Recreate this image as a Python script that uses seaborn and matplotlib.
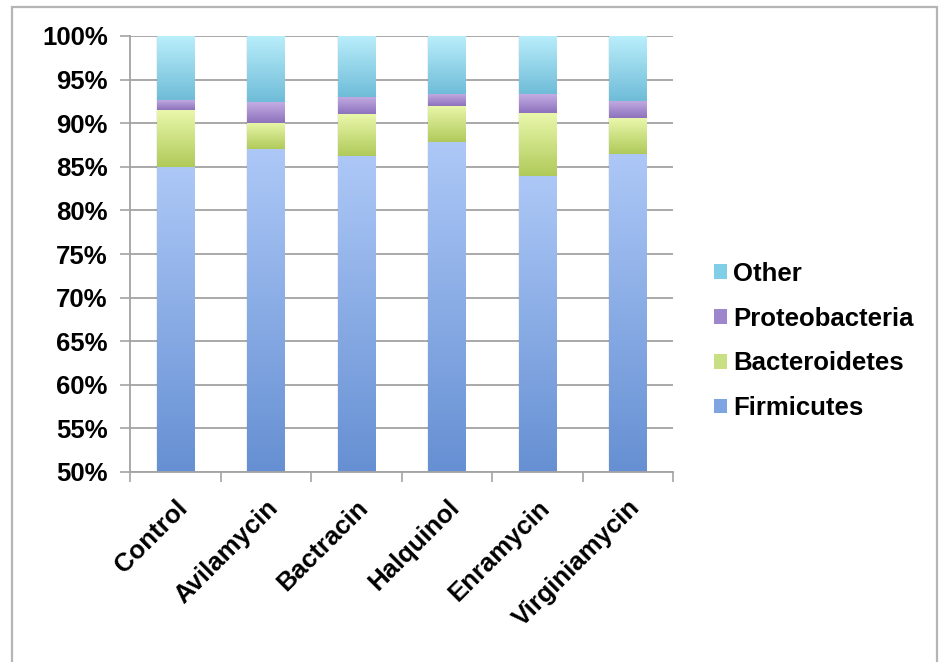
import numpy as np
import pandas as pd
import matplotlib
matplotlib.use("Agg")
import matplotlib.pyplot as plt
import seaborn as sns
from matplotlib.patches import Patch, Rectangle
from matplotlib.colors import to_rgba

# Treatment groups and phylum shares (% of reads)
treatments = ["Control", "Avilamycin", "Bactracin", "Halquinol", "Enramycin", "Virginiamycin"]
firmicutes = [85.0, 87.0, 86.2, 87.8, 84.0, 86.5]
bacteroidetes = [6.5, 3.0, 4.8, 4.2, 7.2, 4.1]
proteobacteria = [1.2, 2.4, 2.0, 1.4, 2.1, 2.0]
other = [7.3, 7.6, 7.0, 6.6, 6.7, 7.4]

series_names = ["Firmicutes", "Bacteroidetes", "Proteobacteria", "Other"]
series_values = [firmicutes, bacteroidetes, proteobacteria, other]
y_ticks = [50, 55, 60, 65, 70, 75, 80, 85, 90, 95, 100]

# (top colour, bottom colour) of each segment's vertical gradient
gradients = {
    "Firmicutes": ("#adc8f7", "#6690d3"),
    "Bacteroidetes": ("#e9f7ab", "#b0ca5a"),
    "Proteobacteria": ("#c4ade3", "#8d72bd"),
    "Other": ("#baeefb", "#6fbcd8"),
}
legend_colors = {
    "Other": "#80cfe6",
    "Proteobacteria": "#9d86cc",
    "Bacteroidetes": "#c9df83",
    "Firmicutes": "#7ea5e2",
}

sns.set_theme(style="white")
plt.rcParams["font.family"] = ["Liberation Sans", "DejaVu Sans"]
plt.rcParams["font.weight"] = "bold"
plt.rcParams["text.color"] = "black"
plt.rcParams["xtick.labelcolor"] = "black"
plt.rcParams["ytick.labelcolor"] = "black"

fig = plt.figure(figsize=(9.4, 6.62), dpi=100)
ax = fig.add_axes([130 / 940, 1 - 472 / 662, (673 - 130) / 940, (472 - 36) / 662])

df = pd.DataFrame({"treatment": treatments})
cum = np.zeros(len(treatments))
tops = {}
bottoms = {}
for name, vals in zip(series_names, series_values):
    bottoms[name] = cum.copy()
    cum = cum + np.array(vals)
    tops[name] = cum.copy()
    df[name] = cum

# Overlapping cumulative bars, tallest first, form the stack
patches = {}
for name in reversed(series_names):
    before = len(ax.patches)
    sns.barplot(data=df, x="treatment", y=name, color=gradients[name][1],
                width=0.41, ax=ax, saturation=1, edgecolor="none", linewidth=0)
    patches[name] = ax.patches[before:]

ymin, ymax = 50, 100

def gradient_img(top, bottom, n=128):
    t = np.linspace(0, 1, n)[:, None]
    c0 = np.array(to_rgba(top))
    c1 = np.array(to_rgba(bottom))
    return (c0 * (1 - t) + c1 * t).reshape(n, 1, 4)

for name in series_names:
    top_c, bot_c = gradients[name]
    for j, p in enumerate(patches[name]):
        x0 = p.get_x()
        x1 = x0 + p.get_width()
        y1 = tops[name][j]
        y0 = max(bottoms[name][j], ymin)
        # soft shadow along the bar edges
        ax.add_patch(Rectangle((x0 - 0.012, y0), (x1 - x0) + 0.024, y1 - y0,
                               facecolor="#000000", alpha=0.06, edgecolor="none", zorder=1.9))
        ax.imshow(gradient_img(top_c, bot_c), extent=[x0, x1, y0, y1],
                  aspect="auto", origin="upper", interpolation="bilinear", zorder=2.5)

ax.set_xlim(-0.5, len(treatments) - 0.5)
ax.set_ylim(ymin, ymax)
ax.set_aspect("auto")

grid_c = "#a3a3a3"
ax.set_yticks(y_ticks)
ax.set_yticklabels([f"{v}%" for v in y_ticks], fontsize=18.5, fontweight="bold", color="black")
ax.yaxis.grid(True, color=grid_c, linewidth=1.3)
ax.set_axisbelow(True)
ax.tick_params(axis="y", which="major", direction="out", length=7, width=1.2,
               color=grid_c, pad=9, left=True)

ax.set_xticks(range(len(treatments)))
ax.set_xticklabels(treatments, fontsize=18.5, fontweight="bold", rotation=45,
                   ha="right", rotation_mode="anchor", color="black")
ax.set_xticks(np.arange(-0.5, len(treatments), 1), minor=True)
ax.tick_params(axis="x", which="major", length=0, pad=17)
ax.tick_params(axis="x", which="minor", direction="out", length=7, width=1.2,
               color=grid_c, bottom=True)
ax.set_xlabel("")
ax.set_ylabel("")

for side in ["top", "right"]:
    ax.spines[side].set_visible(False)
for side in ["left", "bottom"]:
    ax.spines[side].set_color(grid_c)
    ax.spines[side].set_linewidth(1.3)

handles = [Patch(facecolor=legend_colors[n], edgecolor="none", label=n)
           for n in ["Other", "Proteobacteria", "Bacteroidetes", "Firmicutes"]]
leg = fig.legend(handles=handles, loc="center left", bbox_to_anchor=(691 / 940, 1 - 341 / 662),
                 frameon=False, prop={"size": 18.5, "weight": "bold"},
                 handlelength=0.5, handleheight=0.5, handletextpad=0.25, labelspacing=0.81)
for t in leg.get_texts():
    t.set_color("black")

# outer frame
fig.add_artist(Rectangle((12 / 940, -0.02), (937 - 12) / 940, 1.02 - 7 / 662,
                         transform=fig.transFigure, fill=False,
                         edgecolor="#b5b5b5", linewidth=1.6))

fig.savefig("out.png", dpi=100, facecolor="white")
